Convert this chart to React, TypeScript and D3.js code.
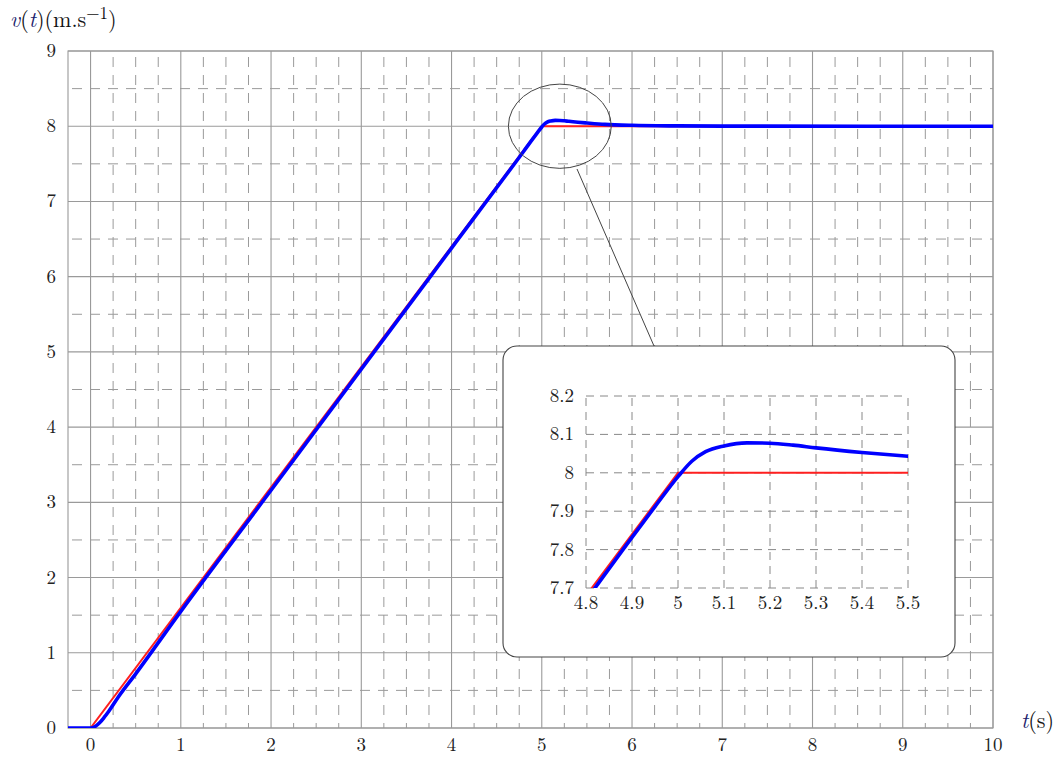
import React from "react";
import * as d3 from "d3";

// ---------- data ----------
const xTicks = [0, 1, 2, 3, 4, 5, 6, 7, 8, 9, 10];
const yTicks = [0, 1, 2, 3, 4, 5, 6, 7, 8, 9];
const insetXTicks = [4.8, 4.9, 5.0, 5.1, 5.2, 5.3, 5.4, 5.5];
const insetYTicks = [7.7, 7.8, 7.9, 8.0, 8.1, 8.2];

// reference (red): ramp then constant
const refT = [-0.25, 0, 5, 10];
const refV = [0, 0, 8, 8];

// response (blue)
const respT = [-0.25, 0, 0.05, 0.1, 0.15, 0.2, 0.3, 0.5, 1, 2, 3, 4, 4.8, 4.9, 4.95, 5.0, 5.03, 5.06, 5.1, 5.15, 5.2, 5.25, 5.3, 5.4, 5.5, 5.7, 6, 6.5, 7, 10];
const respV = [0, 0, 0.02, 0.07, 0.14, 0.22, 0.4, 0.72, 1.55, 3.16, 4.77, 6.38, 7.668, 7.832, 7.912, 7.99, 8.03, 8.055, 8.07, 8.078, 8.077, 8.072, 8.065, 8.053, 8.043, 8.025, 8.012, 8.004, 8.001, 8.0];

// ---------- layout ----------
const W = 1059, H = 757;
const X0 = 68, X1 = 993, Y0 = 728, Y1 = 51;
const IX0 = 586, IX1 = 908, IY0 = 588, IY1 = 396;
const BOX = { x: 503, y: 346, w: 452, h: 311, r: 14 };

const FONT = "'Latin Modern Roman', 'CMU Serif', 'DejaVu Serif', serif";
const GRID = "#9a9a9a";

export default function App() {
  const x = d3.scaleLinear().domain([-0.25, 10]).range([X0, X1]);
  const y = d3.scaleLinear().domain([0, 9]).range([Y0, Y1]);
  const ix = d3.scaleLinear().domain([4.8, 5.5]).range([IX0, IX1]);
  const iy = d3.scaleLinear().domain([7.7, 8.2]).range([IY0, IY1]);

  const ref = refT.map((t, i) => [t, refV[i]] as [number, number]);
  const resp = respT.map((t, i) => [t, respV[i]] as [number, number]);

  const lineMain = d3.line<[number, number]>().x(d => x(d[0])).y(d => y(d[1]));
  const lineMainC = d3.line<[number, number]>().x(d => x(d[0])).y(d => y(d[1])).curve(d3.curveMonotoneX);
  const lineIn = d3.line<[number, number]>().x(d => ix(d[0])).y(d => iy(d[1]));
  const lineInC = d3.line<[number, number]>().x(d => ix(d[0])).y(d => iy(d[1])).curve(d3.curveMonotoneX);

  const minorX = d3.range(-0.25, 10.001, 0.25).filter(v => Math.abs(v - Math.round(v)) > 1e-6 && v > -0.2);
  const minorY = d3.range(0.5, 9, 1);

  const fmt = (v: number) => (Math.abs(v - Math.round(v)) < 1e-9 ? String(Math.round(v)) : v.toFixed(1));

  // zoom ellipse in data coords
  const ecx = x(5.2), ecy = y(8.0);
  const erx = x(5.77) - x(5.2), ery = y(8.0) - y(8.56);

  return (
    <svg width={W} height={H} style={{ position: "absolute", left: 0, top: 0, background: "#fff" }} fontFamily={FONT}>
      <defs>
        <clipPath id="mainClip"><rect x={X0} y={Y1} width={X1 - X0} height={Y0 - Y1} /></clipPath>
        <clipPath id="inClip"><rect x={IX0} y={IY1} width={IX1 - IX0} height={IY0 - IY1} /></clipPath>
      </defs>

      {/* minor grid */}
      {minorX.map(v => (
        <line key={"mx" + v} x1={x(v)} x2={x(v)} y1={Y1} y2={Y0} stroke={GRID} strokeWidth={1} strokeDasharray="10 8" strokeDashoffset={-6} />
      ))}
      {minorY.map(v => (
        <line key={"my" + v} x1={X0} x2={X1} y1={y(v)} y2={y(v)} stroke={GRID} strokeWidth={1} strokeDasharray="10 8" strokeDashoffset={-4} />
      ))}
      {/* major grid */}
      {xTicks.map(v => (
        <line key={"Mx" + v} x1={x(v)} x2={x(v)} y1={Y1} y2={Y0} stroke={GRID} strokeWidth={1.1} />
      ))}
      {yTicks.map(v => (
        <line key={"My" + v} x1={X0} x2={X1} y1={y(v)} y2={y(v)} stroke={GRID} strokeWidth={1.1} />
      ))}
      <rect x={X0} y={Y1} width={X1 - X0} height={Y0 - Y1} fill="none" stroke={GRID} strokeWidth={1.1} />

      {/* tick labels */}
      {xTicks.map(v => (
        <text key={"tx" + v} x={x(v)} y={751} textAnchor="middle" fontSize={19} fill="#222">{v}</text>
      ))}
      {yTicks.map(v => (
        <text key={"ty" + v} x={56} y={y(v) + 6} textAnchor="end" fontSize={19} fill="#222">{v}</text>
      ))}

      {/* curves */}
      <g clipPath="url(#mainClip)">
        <path d={lineMain(ref) || ""} fill="none" stroke="#ff2020" strokeWidth={2} />
        <path d={lineMainC(resp) || ""} fill="none" stroke="#0000ff" strokeWidth={3.6} strokeLinejoin="round" />
      </g>

      {/* axis labels */}
      <text x={10} y={27} fontSize={22} fill="#111">
        <tspan fontStyle="italic" fill="#1b1b6b">v</tspan>
        <tspan>(</tspan>
        <tspan fontStyle="italic" fill="#1b1b6b">t</tspan>
        <tspan>)(m.s</tspan>
        <tspan dy={-8} fontSize={17}>−1</tspan>
        <tspan dy={8}>)</tspan>
      </text>
      <text x={1021} y={728} fontSize={22} fill="#111">
        <tspan fontStyle="italic" fill="#1b1b6b">t</tspan>
        <tspan>(s)</tspan>
      </text>

      {/* zoom marker */}
      <ellipse cx={ecx} cy={ecy} rx={erx} ry={ery} fill="none" stroke="#444" strokeWidth={1} />
      <line x1={577} y1={169} x2={654} y2={BOX.y} stroke="#444" strokeWidth={1} />

      {/* inset */}
      <rect x={BOX.x} y={BOX.y} width={BOX.w} height={BOX.h} rx={BOX.r} ry={BOX.r} fill="#fff" stroke="#444" strokeWidth={1.1} />
      {insetXTicks.map(v => (
        <line key={"ix" + v} x1={ix(v)} x2={ix(v)} y1={IY1} y2={IY0} stroke="#888" strokeWidth={1} strokeDasharray="8 6" strokeDashoffset={-2} />
      ))}
      {insetYTicks.map(v => (
        <line key={"iy" + v} x1={IX0} x2={IX1} y1={iy(v)} y2={iy(v)} stroke="#888" strokeWidth={1} strokeDasharray="8 6" />
      ))}
      {insetXTicks.map(v => (
        <text key={"itx" + v} x={ix(v)} y={609} textAnchor="middle" fontSize={19} fill="#222">{fmt(v)}</text>
      ))}
      {insetYTicks.map(v => (
        <text key={"ity" + v} x={574} y={iy(v) + 6} textAnchor="end" fontSize={19} fill="#222">{fmt(v)}</text>
      ))}
      <g clipPath="url(#inClip)">
        <path d={lineIn(ref) || ""} fill="none" stroke="#ff2020" strokeWidth={2} />
        <path d={lineInC(resp) || ""} fill="none" stroke="#0000ff" strokeWidth={3.6} strokeLinejoin="round" />
      </g>
    </svg>
  );
}
